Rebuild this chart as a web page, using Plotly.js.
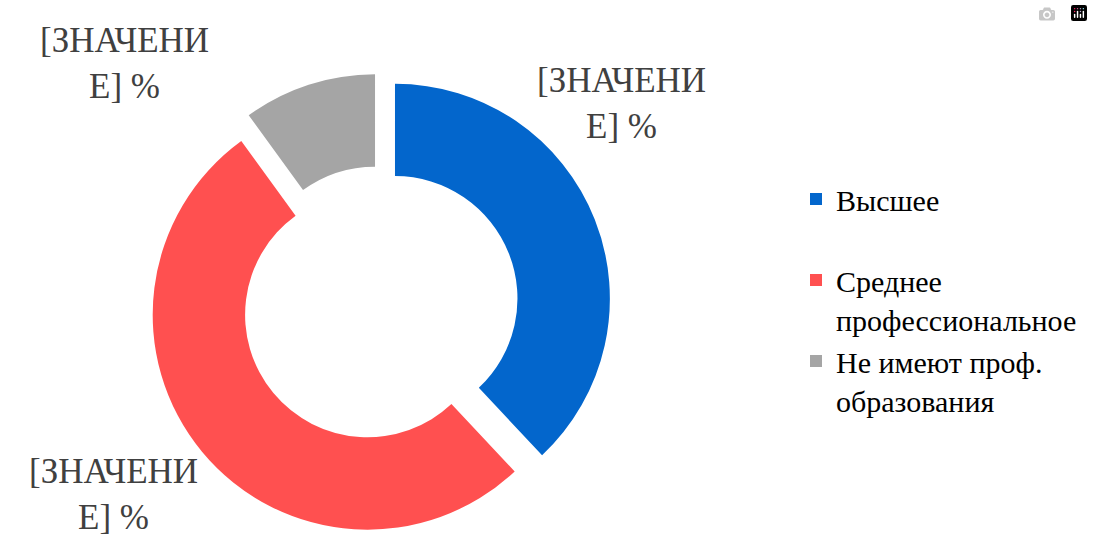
<!DOCTYPE html>
<html>
<head>
<meta charset="utf-8">
<script src="https://cdn.plot.ly/plotly-3.0.1.min.js"></script>
</head>
<body style="margin:0;padding:0">
<div id="chart" style="width:1093px;height:538px"></div>
<script>
// ---- data ----
var categories = ["Высшее", "Среднее профессиональное", "Не имеют проф. образования"];
var legendLabels = ["Высшее<br>\u00a0", "Среднее<br>профессиональное", "Не имеют проф.<br>образования"];
var values = [38, 52, 10];
var valueLabels = ["[ЗНАЧЕНИ<br>Е] %", "[ЗНАЧЕНИ<br>Е] %", "[ЗНАЧЕНИ<br>Е] %"];
var colors = ["#0366CC", "#FF5050", "#A5A5A5"];

// ---- layout helpers ----
var W = 1093, H = 538;
// label anchor points (pixel) for each slice's value label
var labelPos = [[621, 103], [113, 494], [124, 64]];

var annotations = valueLabels.map(function (t, i) {
  return {
    text: t,
    xref: "paper", yref: "paper",
    x: labelPos[i][0] / W, y: 1 - labelPos[i][1] / H,
    xanchor: "center", yanchor: "middle",
    showarrow: false,
    align: "center",
    font: { family: "Liberation Serif", size: 35, color: "#404040" }
  };
});

Plotly.newPlot("chart", [{
  type: "pie",
  labels: legendLabels,
  values: values,
  customdata: categories,
  sort: false,
  direction: "clockwise",
  rotation: 0,
  hole: 0.57,
  pull: [0.075, 0.075, 0.075],
  marker: { colors: colors, line: { width: 0 } },
  textinfo: "none",
  hovertemplate: "%{customdata}: %{value}%<extra></extra>",
  domain: { x: [149 / W, 611 / W], y: [1 - 535.5 / H, 1 - 73.5 / H] }
}], {
  width: W, height: H,
  margin: { l: 0, r: 0, t: 0, b: 0 },
  font: { family: "Liberation Serif" },
  showlegend: true,
  legend: {
    x: 796 / W, xanchor: "left",
    y: 1 - 173 / H, yanchor: "top",
    valign: "top",
    itemwidth: 30,
    font: { family: "Liberation Serif", size: 30, color: "#000000" },
    bgcolor: "rgba(0,0,0,0)"
  },
  annotations: annotations
});
</script>
</body>
</html>
